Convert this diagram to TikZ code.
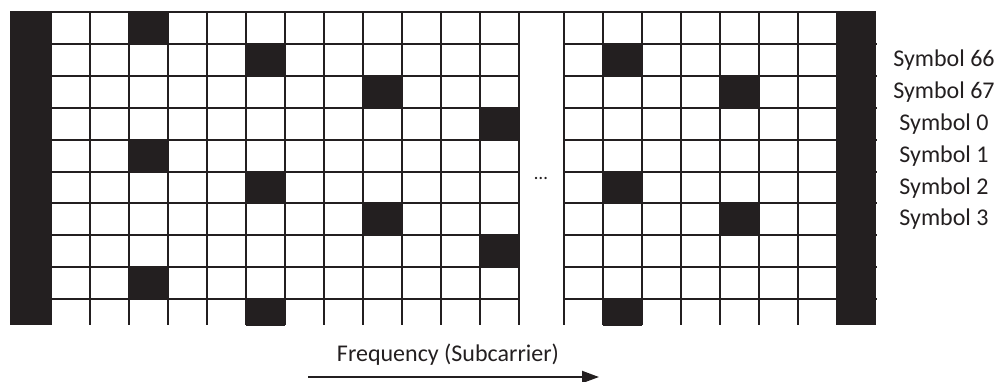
\documentclass[tikz,border=0pt]{standalone}
\usepackage{fontspec}
\setmainfont{Carlito}
\usetikzlibrary{positioning,arrows.meta}
\definecolor{ink}{RGB}{35,31,32}

\begin{document}
\begin{tikzpicture}[x=1pt,y=-1pt,line width=2pt,color=ink,font=\fontsize{24pt}{28pt}\selectfont]
	\useasboundingbox (0,0) rectangle (1005,381);

	\begin{scope}
		\clip (0,0) rectangle (1005,325);
		\fill (10,12) rectangle (51,325);
		\fill (837,12) rectangle (876,325);
		\foreach \c/\r in {3/1,3/5,3/9,6/2,6/6,6/10,9/3,9/7,12/4,12/8}
			\fill ({51+39*(\c-1)},{12+31.9*(\r-1)}) rectangle +(39,31.9);
		\foreach \c/\r in {2/2,2/6,2/10,5/3,5/7}
			\fill ({564+39*(\c-1)},{12+31.9*(\r-1)}) rectangle +(39,31.9);
	\end{scope}

	\draw (10,12) -- (876,12);
	\foreach \x in {0,...,12}
		\draw ({51+39*\x},12) -- ++(0,313);
	\foreach \x in {0,...,7}
		\draw ({564+39*\x},12) -- ++(0,313);
	\foreach \r in {1,...,9} {
		\draw (51,{12+31.9*\r}) -- (519,{12+31.9*\r});
		\draw (564,{12+31.9*\r}) -- (877,{12+31.9*\r});
	}

	\node(dots) at (541,178) {\fontsize{19pt}{20pt}\selectfont …};

	\node(s66) at (944,60) {Symbol 66};
	\node(s67) at (944,92) {Symbol 67};
	\node(s0) at (944,124) {Symbol 0};
	\node(s1) at (944,156) {Symbol 1};
	\node(s2) at (944,188) {Symbol 2};
	\node(s3) at (944,219) {Symbol 3};

	\coordinate(fstart) at (308,377);
	\coordinate(fend) at (599,377);
	\node(freq) at (448,355) {Frequency (Subcarrier)};
	\draw[-{Triangle[length=17pt,width=12pt]}] (fstart) -- (fend);
\end{tikzpicture}
\end{document}
